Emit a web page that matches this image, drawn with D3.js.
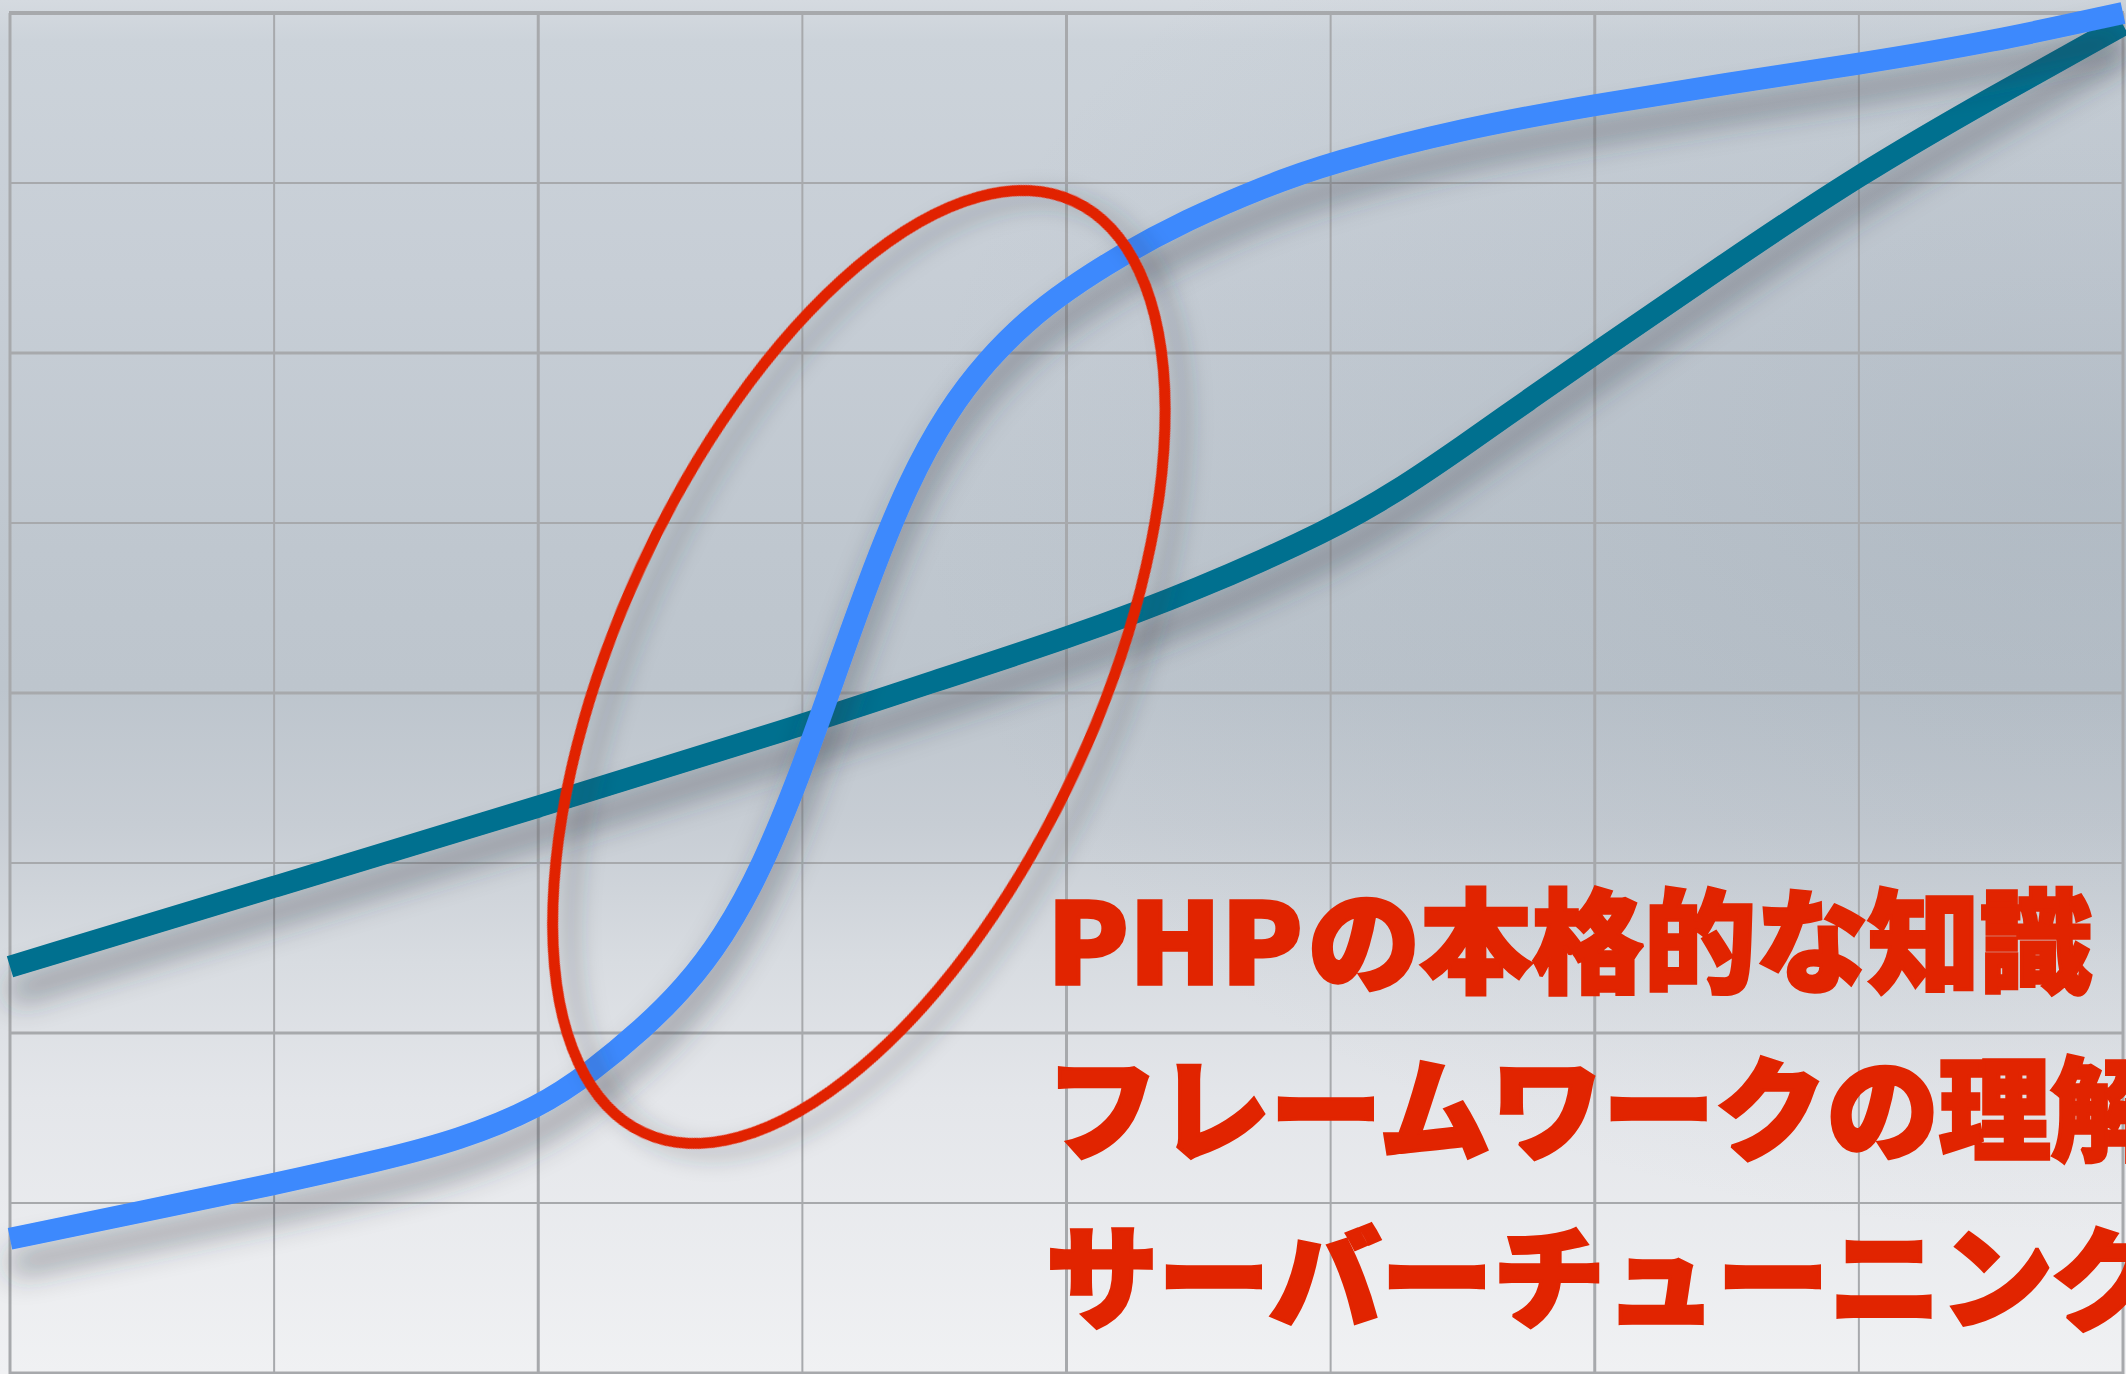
<!DOCTYPE html>
<html>
<head>
<meta charset="utf-8">
<script src="https://cdn.jsdelivr.net/npm/d3@7"></script>
<style>
html,body{margin:0;padding:0;overflow:hidden;background:#dde1e6;}
svg{display:block;}
</style>
</head>
<body>
<svg id="chart" width="2126" height="1374"></svg>
<script>
// ---------- data (grid units) ----------
const xTicks = [0, 1, 2, 3, 4, 5, 6, 7, 8];
const yTicks = [0, 1, 2, 3, 4, 5, 6, 7, 8];

const tealX = [0, 1, 2, 3, 3.5, 4, 4.5, 5, 5.25, 5.5, 5.75, 6, 6.5, 7, 7.5, 8];
const tealY = [2.39, 2.86, 3.33, 3.81, 4.07, 4.32, 4.61, 4.96, 5.185, 5.45, 5.725, 5.995, 6.53, 7.05, 7.5, 7.93];

const blueX = [0, 0.5, 1, 1.4, 1.7, 2.0, 2.2, 2.4, 2.55, 2.7, 2.85, 3.0, 3.1, 3.25, 3.4, 3.55, 3.7, 3.85, 4.0, 4.2, 4.45, 4.75, 5.0, 5.5, 6.0, 6.5, 7.0, 7.5, 8.0];
const blueY = [0.79, 0.95, 1.11, 1.25, 1.37, 1.56, 1.77, 2.03, 2.26, 2.56, 2.98, 3.56, 4.0, 4.66, 5.24, 5.66, 5.96, 6.19, 6.37, 6.57, 6.78, 6.98, 7.12, 7.32, 7.46, 7.585, 7.70, 7.83, 8.0];

const highlightCenter = [3.214, 4.153];   // centre of the circled crossing
const labels = ["PHPの本格的な知識", "フレームワークの理解", "サーバーチューニング"];

// ---------- layout ----------
const W = 2126, H = 1374;
const svg = d3.select("#chart");
const x = d3.scaleLinear().domain([0, 8]).range([10, 2123]);
const y = d3.scaleLinear().domain([0, 8]).range([1373, 13]);

const defs = svg.append("defs");
const bg = defs.append("linearGradient").attr("id", "bg").attr("x1", 0).attr("y1", 0).attr("x2", 0).attr("y2", 1);
[[0, "#d5dae0"], [0.03, "#ccd3da"], [0.2, "#c7ced6"], [0.4, "#bfc7cf"], [0.5, "#bdc5cd"],
 [0.6, "#c7cdd4"], [0.7, "#d8dce1"], [0.8, "#e4e6ea"], [1, "#f0f1f3"]]
  .forEach(([o, c]) => bg.append("stop").attr("offset", o).attr("stop-color", c));

const vig = defs.append("radialGradient").attr("id", "vig")
  .attr("cx", 0.98).attr("cy", 0.35).attr("r", 0.55);
vig.append("stop").attr("offset", 0).attr("stop-color", "#7f8e9c").attr("stop-opacity", 0.22);
vig.append("stop").attr("offset", 1).attr("stop-color", "#7f8e9c").attr("stop-opacity", 0);

function shadow(id, dy, sd, op) {
  const f = defs.append("filter").attr("id", id)
    .attr("x", "-20%").attr("y", "-20%").attr("width", "140%").attr("height", "150%");
  f.append("feDropShadow").attr("dx", 0).attr("dy", dy).attr("stdDeviation", sd)
    .attr("flood-color", "#2a3440").attr("flood-opacity", op);
}
shadow("sh", 26, 15, 0.45);
shadow("shr", 20, 11, 0.32);

svg.append("rect").attr("width", W).attr("height", H).attr("fill", "url(#bg)");
svg.append("rect").attr("width", W).attr("height", H).attr("fill", "url(#vig)");

// ---------- grid ----------
const grid = svg.append("g").attr("stroke", "#a7a9ac");
grid.selectAll("line.v").data(xTicks).join("line")
  .attr("x1", d => x(d)).attr("x2", d => x(d))
  .attr("y1", y(8)).attr("y2", H)
  .attr("stroke-width", d => d % 2 === 0 ? 3 : 2);
grid.selectAll("line.h").data(yTicks).join("line")
  .attr("x1", x(0) - 1).attr("x2", x(8) + 1)
  .attr("y1", d => y(d)).attr("y2", d => y(d))
  .attr("stroke-width", d => d === 8 ? 4 : (d % 2 === 0 ? 3 : 2));

// ---------- lines ----------
const line = d3.line().x(d => x(d[0])).y(d => y(d[1])).curve(d3.curveBasis);
const teal = tealX.map((v, i) => [v, tealY[i]]);
const blue = blueX.map((v, i) => [v, blueY[i]]);

svg.append("path").attr("d", line(teal)).attr("fill", "none")
  .attr("stroke", "#006f8f").attr("stroke-width", 22).attr("filter", "url(#sh)");
svg.append("path").attr("d", line(blue)).attr("fill", "none")
  .attr("stroke", "#3d89fd").attr("stroke-width", 22).attr("filter", "url(#sh)");

// ---------- highlight ellipse ----------
svg.append("ellipse")
  .attr("transform", `translate(${x(highlightCenter[0])},${y(highlightCenter[1])}) rotate(-65.2)`)
  .attr("rx", 513).attr("ry", 240)
  .attr("fill", "none").attr("stroke", "#e12400").attr("stroke-width", 11)
  .attr("filter", "url(#shr)");

// ---------- labels ----------
const txt = svg.append("g")
  .attr("font-family", "'Noto Sans CJK JP','Noto Sans CJK SC',sans-serif")
  .attr("font-weight", 900).attr("font-size", 112).attr("fill", "#e12400")
  .attr("stroke", "#e12400").attr("stroke-width", 3.5)
  .attr("stroke-linejoin", "miter").attr("stroke-miterlimit", 2);
const t1 = txt.append("text").attr("y", 984);
t1.append("tspan").attr("x", 1047).attr("textLength", 256).attr("lengthAdjust", "spacingAndGlyphs").text(labels[0].slice(0, 3));
t1.append("tspan").attr("x", 1308).text(labels[0].slice(3));
txt.append("text").attr("x", 1046).attr("y", 1152).text(labels[1]);
txt.append("text").attr("x", 1046).attr("y", 1320).text(labels[2]);
</script>
</body>
</html>
